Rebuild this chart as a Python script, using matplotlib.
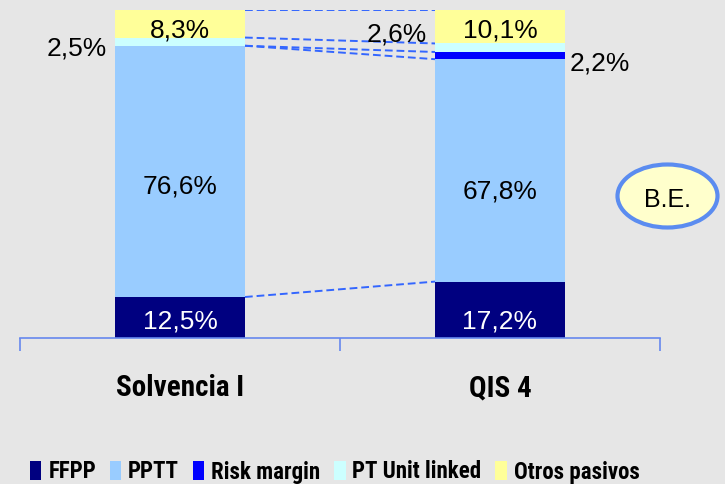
import matplotlib
matplotlib.use("Agg")
import matplotlib.pyplot as plt
from matplotlib.patches import Ellipse, Patch
import numpy as np

categories = ["Solvencia I", "QIS 4"]
series = ["FFPP", "PPTT", "Risk margin", "PT Unit linked", "Otros pasivos"]
ffpp = [12.5, 17.2]
pptt = [76.6, 67.8]
risk_margin = [0.0, 2.2]
unit_linked = [2.5, 2.6]
otros = [8.3, 10.1]
colors = ["#000080", "#99ccff", "#0000ff", "#ccffff", "#ffff99"]

bg = "#e6e6e6"
fig = plt.figure(figsize=(7.25, 4.84), dpi=100, facecolor=bg)
W, H = 725, 484
ax = fig.add_axes([20 / W, 1 - 338 / H, 640 / W, 328 / H])
ax.set_facecolor("none")
ax.set_xlim(-0.5, 1.5)
ax.set_ylim(0, 100)

x = np.arange(len(categories))
width = 0.406
data = np.array([ffpp, pptt, risk_margin, unit_linked, otros])
bottoms = np.vstack([np.zeros(2), np.cumsum(data, axis=0)[:-1]])
tops = np.cumsum(data, axis=0)
for i in range(len(series)):
    ax.bar(x, data[i], width, bottom=bottoms[i], color=colors[i], label=series[i], zorder=2)

# connectors
dash_kw = dict(color="#3366ff", lw=1.4, ls=(0, (4, 2)), zorder=1)
xl, xr = x[0] + width / 2, x[1] - width / 2
ax.plot([xl, xr], [tops[-1][0], tops[-1][1]], **dash_kw)
for k in [4, 3, 2, 1]:
    ax.plot([xl, xr], [bottoms[k][0], bottoms[k][1]], **dash_kw)

def fmt(v):
    return f"{v:.1f}%".replace(".", ",")

fs = 19
tf = "Liberation Sans"
pptt_drop = [6.6, 8.7]
for j in range(2):
    ax.text(x[j], bottoms[0][j] + 3.0, fmt(ffpp[j]), ha="center", va="baseline",
            color="white", fontsize=fs, family=tf)
    ax.text(x[j], bottoms[1][j] + data[1][j] / 2 - pptt_drop[j], fmt(pptt[j]), ha="center",
            va="baseline", color="black", fontsize=fs, family=tf)
    ax.text(x[j], tops[-1][j] - 8.4, fmt(otros[j]), ha="center", va="baseline",
            color="black", fontsize=fs, family=tf)
ax.text(x[0] - width / 2 - 0.025, bottoms[3][0] - 3.1, fmt(unit_linked[0]),
        ha="right", va="baseline", fontsize=fs, family=tf)
ax.text(x[1] - width / 2 - 0.025, bottoms[4][1] + 0.7, fmt(unit_linked[1]),
        ha="right", va="baseline", fontsize=fs, family=tf)
ax.text(x[1] + width / 2 + 0.015, bottoms[2][1] - 3.3, fmt(risk_margin[1]),
        ha="left", va="baseline", fontsize=fs, family=tf)

# axis styling
for s in ["top", "right", "left"]:
    ax.spines[s].set_visible(False)
ax.spines["bottom"].set_color("#6688ee")
ax.spines["bottom"].set_linewidth(1.2)
ax.set_yticks([])
ax.set_xticks([-0.5, 0.5, 1.5])
ax.set_xticklabels([])
ax.tick_params(axis="x", direction="out", length=9, width=1.2, color="#6688ee")
ax.set_xticks(x, minor=True)
ax.set_xticklabels(categories, minor=True, fontsize=21, fontweight="bold",
                   family=["Roboto Condensed", "Liberation Sans"])
ax.tick_params(axis="x", which="minor", length=0, pad=26)

# B.E. ellipse
fig.patches.append(Ellipse((667.5 / W, 1 - 196 / H), 100 / W, 63 / H, transform=fig.transFigure,
                           facecolor="#ffffcc", edgecolor="#5b8cf0", lw=3, zorder=5))
fig.text(667.5 / W, 1 - 207 / H, "B.E.", ha="center", va="baseline", fontsize=18, family=tf, zorder=6)

handles = [Patch(facecolor=c, edgecolor="none") for c in colors]
fig.legend(handles, series, loc="center left", bbox_to_anchor=(30 / W, 1 - 472 / H), ncol=5,
           frameon=False, handlelength=0.5, handleheight=0.9, handletextpad=0.3,
           columnspacing=0.6, borderpad=0, borderaxespad=0,
           prop=dict(family=["Roboto Condensed", "Liberation Sans"], weight="bold", size=16.5))

fig.savefig("out.png", dpi=100, facecolor=bg)
